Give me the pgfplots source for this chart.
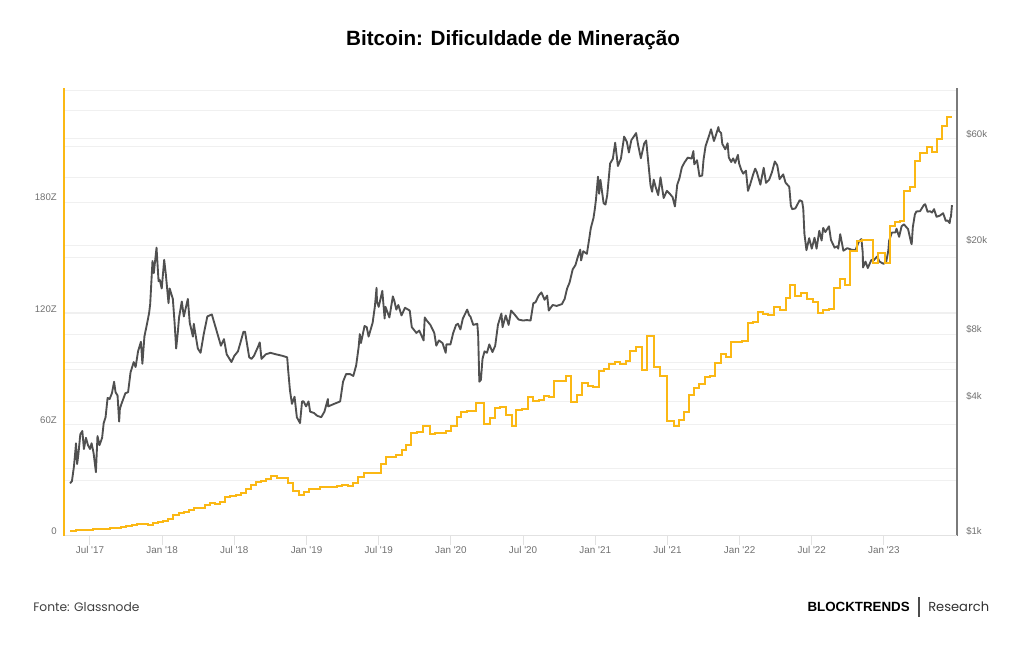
\documentclass[border=0pt]{standalone}
\usepackage{pgfplots}
\pgfplotsset{compat=1.18}
\usepackage{fontspec}
\setmainfont{Liberation Sans}[Ligatures=TeXOff]
\newfontfamily\footfont{Poppins}[Ligatures=TeXOff]
\definecolor{btcorange}{HTML}{FBB814}
\definecolor{pricegray}{HTML}{505050}
\definecolor{gridc}{HTML}{F0F0F0}
\definecolor{xaxc}{HTML}{E2E2E2}
\definecolor{labc}{HTML}{707070}
\definecolor{axgray}{HTML}{7A7A7A}

\pgfplotstableread{
t p
2017.362 1.72
2017.375 1.76
2017.389 2.05
2017.400 2.45
2017.403 2.60
2017.411 2.10
2017.419 2.30
2017.433 2.85
2017.447 2.95
2017.458 2.45
2017.472 2.75
2017.486 2.55
2017.500 2.45
2017.511 2.60
2017.525 2.35
2017.541 1.93
2017.552 2.80
2017.566 2.55
2017.584 2.75
2017.595 3.20
2017.608 3.40
2017.622 4.15
2017.636 4.10
2017.652 4.35
2017.667 4.90
2017.677 4.40
2017.691 4.25
2017.702 3.25
2017.707 3.70
2017.718 3.90
2017.745 4.35
2017.764 4.40
2017.781 5.40
2017.803 6.00
2017.816 5.70
2017.833 6.70
2017.853 7.40
2017.863 5.90
2017.877 7.80
2017.901 9.30
2017.910 10.0
2017.917 10.9
2017.933 17.0
2017.942 15.0
2017.961 19.5
2017.975 13.8
2017.983 14.0
2017.997 12.8
2018.014 17.2
2018.025 14.9
2018.044 11.0
2018.052 12.8
2018.074 11.5
2018.086 9.0
2018.097 6.9
2018.108 8.1
2018.117 9.5
2018.136 11.2
2018.150 9.6
2018.178 11.5
2018.191 9.0
2018.213 7.8
2018.219 8.9
2018.247 6.9
2018.266 6.6
2018.288 8.0
2018.313 9.6
2018.344 9.8
2018.372 8.5
2018.407 7.1
2018.428 7.6
2018.447 6.5
2018.480 6.0
2018.500 6.4
2018.525 6.7
2018.544 7.4
2018.563 8.2
2018.574 8.2
2018.603 6.3
2018.619 6.2
2018.636 6.4
2018.663 7.0
2018.676 7.35
2018.688 6.2
2018.718 6.5
2018.750 6.6
2018.788 6.5
2018.833 6.4
2018.866 6.3
2018.872 5.6
2018.885 4.5
2018.899 3.9
2018.917 4.2
2018.933 3.4
2018.955 3.2
2018.969 4.0
2018.980 4.0
2018.997 3.8
2019.014 4.0
2019.025 3.6
2019.052 3.55
2019.074 3.45
2019.102 3.4
2019.124 3.6
2019.148 4.1
2019.150 3.8
2019.191 3.9
2019.233 4.0
2019.253 4.9
2019.274 5.3
2019.302 5.3
2019.324 5.2
2019.344 5.8
2019.361 7.0
2019.369 8.0
2019.377 7.3
2019.402 8.7
2019.417 8.6
2019.430 7.8
2019.458 9.0
2019.474 10.7
2019.485 12.9
2019.488 11.2
2019.500 10.6
2019.525 12.5
2019.541 9.4
2019.547 10.6
2019.574 9.5
2019.598 11.8
2019.608 11.3
2019.622 10.3
2019.636 10.8
2019.658 9.7
2019.682 10.5
2019.715 10.2
2019.729 8.6
2019.761 8.1
2019.781 8.3
2019.811 7.5
2019.819 9.5
2019.833 9.2
2019.858 8.8
2019.885 8.1
2019.899 7.1
2019.917 7.5
2019.942 7.3
2019.964 6.6
2019.969 7.2
2019.997 7.2
2020.016 8.1
2020.036 8.8
2020.049 8.9
2020.066 8.4
2020.083 9.4
2020.113 10.3
2020.127 9.7
2020.135 9.6
2020.155 8.8
2020.183 8.9
2020.189 7.9
2020.197 4.9
2020.208 5.0
2020.219 6.2
2020.233 6.7
2020.250 6.6
2020.266 7.2
2020.288 6.65
2020.307 7.1
2020.326 8.8
2020.350 9.9
2020.358 8.6
2020.380 9.7
2020.400 8.8
2020.417 10.2
2020.441 9.8
2020.469 9.3
2020.500 9.2
2020.525 9.25
2020.552 9.2
2020.571 11.0
2020.586 11.1
2020.608 11.9
2020.627 12.3
2020.649 11.4
2020.667 11.9
2020.678 10.2
2020.705 10.8
2020.733 10.7
2020.769 10.9
2020.788 11.5
2020.805 12.8
2020.822 13.6
2020.844 15.6
2020.863 16.3
2020.880 17.8
2020.896 19.1
2020.902 17.1
2020.917 18.8
2020.942 18.3
2020.958 21.3
2020.969 23.8
2020.988 26.5
2020.997 29.0
2021.005 32.0
2021.019 40.5
2021.027 34.0
2021.036 39.2
2021.058 30.8
2021.071 30.4
2021.083 33.5
2021.103 46.4
2021.122 48.7
2021.138 57.5
2021.157 45.2
2021.178 48.8
2021.200 61.2
2021.219 58.0
2021.233 52.0
2021.250 59.0
2021.283 63.5
2021.297 56.2
2021.316 49.0
2021.339 57.0
2021.353 58.8
2021.364 49.5
2021.383 37.0
2021.394 34.7
2021.405 39.3
2021.417 36.7
2021.436 33.5
2021.452 40.2
2021.474 32.5
2021.496 35.0
2021.516 34.0
2021.536 32.8
2021.552 29.8
2021.568 37.3
2021.583 39.8
2021.600 44.6
2021.619 47.0
2021.641 49.3
2021.667 48.8
2021.680 52.7
2021.686 46.0
2021.705 48.0
2021.722 40.7
2021.741 41.0
2021.750 48.2
2021.764 55.4
2021.788 61.7
2021.802 66.0
2021.822 58.5
2021.833 61.3
2021.853 67.5
2021.858 64.9
2021.872 63.5
2021.880 56.8
2021.901 53.7
2021.917 57.2
2021.925 49.4
2021.942 47.1
2021.955 48.9
2021.969 46.7
2021.988 50.7
2021.997 46.3
2022.011 43.5
2022.025 41.8
2022.044 43.1
2022.058 35.0
2022.071 37.0
2022.094 41.5
2022.108 44.0
2022.119 42.5
2022.144 37.3
2022.147 38.3
2022.167 44.4
2022.183 38.0
2022.205 39.3
2022.224 42.4
2022.244 47.4
2022.261 45.5
2022.277 39.5
2022.302 41.5
2022.318 38.1
2022.344 36.5
2022.355 30.1
2022.364 29.0
2022.386 29.2
2022.416 31.8
2022.433 31.4
2022.441 29.1
2022.449 22.5
2022.463 19.0
2022.482 21.5
2022.500 19.3
2022.519 21.6
2022.533 19.3
2022.552 23.2
2022.568 21.0
2022.579 23.9
2022.594 22.9
2022.619 24.3
2022.633 21.1
2022.658 19.5
2022.678 19.8
2022.683 19.3
2022.697 22.4
2022.719 18.9
2022.746 19.4
2022.775 19.1
2022.802 19.0
2022.827 20.8
2022.844 21.3
2022.853 18.5
2022.855 15.9
2022.872 16.9
2022.888 15.8
2022.913 17.2
2022.928 17.1
2022.953 17.8
2022.969 16.9
2022.997 16.5
2023.016 16.9
2023.030 18.9
2023.036 21.0
2023.055 22.8
2023.079 22.8
2023.087 23.7
2023.105 21.8
2023.122 24.3
2023.138 24.8
2023.167 23.6
2023.189 20.4
2023.192 20.2
2023.200 24.1
2023.214 27.4
2023.224 28.3
2023.250 28.4
2023.277 30.3
2023.286 30.5
2023.302 28.2
2023.318 28.4
2023.333 28.0
2023.347 29.0
2023.364 26.8
2023.386 27.1
2023.410 27.8
2023.428 25.7
2023.441 25.8
2023.455 25.1
2023.460 26.5
2023.464 26.8
2023.471 30.2
}\pricetable

\pgfplotstableread{
t z
2017.362 2.6
2017.403 3.0
2017.445 3.1
2017.486 3.4
2017.521 3.6
2017.562 3.8
2017.597 4.0
2017.639 4.1
2017.673 4.3
2017.715 5.0
2017.749 5.2
2017.791 5.8
2017.826 6.3
2017.902 5.8
2017.936 6.8
2017.971 7.7
2018.006 8.3
2018.040 9.4
2018.075 11.2
2018.117 12.3
2018.151 13.1
2018.186 14.1
2018.220 14.9
2018.262 15.1
2018.297 16.5
2018.331 17.8
2018.366 17.3
2018.401 18.5
2018.435 21.2
2018.470 21.8
2018.511 22.2
2018.546 23.0
2018.581 25.6
2018.615 27.4
2018.650 28.9
2018.685 29.8
2018.719 30.7
2018.754 32.3
2018.795 31.1
2018.872 28.4
2018.906 24.4
2018.948 22.1
2018.982 23.9
2019.017 25.2
2019.093 26.3
2019.211 27.2
2019.246 27.4
2019.287 27.2
2019.322 28.8
2019.356 32.0
2019.398 34.0
2019.433 34.1
2019.516 38.9
2019.550 42.8
2019.623 43.7
2019.658 46.4
2019.692 49.0
2019.727 55.4
2019.765 56.2
2019.807 59.3
2019.855 55.0
2019.890 55.7
2019.966 56.6
2020.004 59.3
2020.039 64.0
2020.073 67.0
2020.112 67.5
2020.177 71.5
2020.229 60.2
2020.271 63.4
2020.309 68.8
2020.340 69.4
2020.382 65.2
2020.423 59.3
2020.454 67.9
2020.493 68.3
2020.531 74.8
2020.569 72.9
2020.607 73.3
2020.645 75.5
2020.680 75.1
2020.714 83.6
2020.797 86.3
2020.835 72.4
2020.874 76.0
2020.908 82.6
2020.950 80.9
2020.984 80.2
2021.026 89.1
2021.061 89.9
2021.095 92.6
2021.137 94.0
2021.171 92.7
2021.213 94.5
2021.244 99.9
2021.282 101.7
2021.327 89.5
2021.358 108.0
2021.407 90.9
2021.448 86.3
2021.500 62.0
2021.545 59.3
2021.580 62.5
2021.615 67.0
2021.649 76.0
2021.684 79.6
2021.722 81.9
2021.757 85.9
2021.795 86.4
2021.833 93.4
2021.871 98.1
2021.906 96.7
2021.940 104.4
2021.975 104.7
2022.017 105.1
2022.058 115.0
2022.093 115.5
2022.127 120.6
2022.162 119.5
2022.197 119.1
2022.238 123.3
2022.280 121.8
2022.321 128.5
2022.352 135.3
2022.387 129.4
2022.425 131.0
2022.467 127.6
2022.508 126.0
2022.546 120.0
2022.581 121.8
2022.619 122.4
2022.657 133.5
2022.692 138.4
2022.733 135.3
2022.768 153.8
2022.810 159.0
2022.848 159.3
2022.886 159.6
2022.927 147.3
2022.962 152.7
2023.004 147.3
2023.045 167.1
2023.076 169.4
2023.111 170.0
2023.142 186.1
2023.180 188.0
2023.218 202.3
2023.253 206.6
2023.298 209.9
2023.333 207.2
2023.367 213.8
2023.405 221.0
2023.437 226.0
2023.471 226.0
}\difftable

\begin{document}
\begin{tikzpicture}[x=0.75pt,y=0.75pt]
\path[use as bounding box] (0,0) rectangle (1024,645);
% title
\node[inner sep=0pt, font=\bfseries\fontsize{15.5}{18}\selectfont] at (513,605) {Bitcoin: Dificuldade de Mineração};
% footer
\node[inner sep=0pt, anchor=west, font=\footfont\fontsize{9.2}{11}\selectfont, text=black!75] at (33,38) {Fonte: Glassnode};
\node[inner sep=0pt, anchor=east, font=\bfseries\fontsize{10}{12}\selectfont] at (910,38) {BLOCKTRENDS};
\draw[black!70, line width=0.8pt] (919,28) -- (919,48);
\node[inner sep=0pt, anchor=west, font=\footfont\fontsize{9.8}{12}\selectfont, text=black!80] at (928,38) {Research};

% price axis (right, log) -- also carries the grid lines of both scales
\begin{axis}[
  scale only axis, width=669.75pt, height=336pt,
  at={(48pt,81.75pt)}, anchor=south west,
  xmin=2017.32, xmax=2023.506,
  ymode=log, ymin=1, ymax=101,
  axis x line=none, axis y line*=right,
  xtick=\empty,
  y axis line style={draw=axgray, line width=1.5pt, -},
  ytick={1,4,8,20,60}, yticklabels={\$1k,\$4k,\$8k,\$20k,\$60k},
  minor ytick={2,6,10,40,80,1.774,3.148,5.585,9.909,17.58,31.19,55.33,98.17},
  ymajorgrids, yminorgrids,
  major grid style={draw=gridc, line width=0.75pt},
  minor grid style={draw=gridc, line width=0.75pt},
  tick style={draw=none},
  yticklabel style={font=\fontsize{7.2}{8}\selectfont, text=labc, anchor=west, inner sep=0pt, xshift=6.75pt, yshift=3.5pt},
]
\addplot[pricegray, line width=1.4pt, line join=round] table[x=t, y=p] {\pricetable};
\end{axis}

% difficulty axis (left, linear)
\begin{axis}[
  scale only axis, width=669.75pt, height=336pt,
  at={(48pt,81.75pt)}, anchor=south west,
  xmin=2017.32, xmax=2023.506,
  ymin=0, ymax=241.5,
  axis x line*=bottom, axis y line*=left,
  x axis line style={draw=xaxc, line width=0.75pt, -},
  y axis line style={draw=btcorange, line width=1.5pt, -},
  xtick={2017.5,2018,2018.5,2019,2019.5,2020,2020.5,2021,2021.5,2022,2022.5,2023},
  xticklabels={Jul '17,Jan '18,Jul '18,Jan '19,Jul '19,Jan '20,Jul '20,Jan '21,Jul '21,Jan '22,Jul '22,Jan '23},
  ytick={0,60,120,180}, yticklabels={0,60Z,120Z,180Z},
  xtick align=outside, ytick align=inside,
  major tick length=6.75pt,
  xtick style={draw=xaxc, line width=0.75pt},
  ytick style={draw=none},
  xticklabel style={font=\fontsize{7.4}{8}\selectfont, text=labc, inner sep=0pt, yshift=-1pt},
  yticklabel style={font=\fontsize{7.2}{8}\selectfont, text=labc, anchor=east, inner sep=0pt, xshift=-5.25pt, yshift=3.5pt},
]
\addplot[btcorange, line width=1.5pt, const plot mark left, line join=miter] table[x=t, y=z] {\difftable};
\end{axis}
\end{tikzpicture}
\end{document}
